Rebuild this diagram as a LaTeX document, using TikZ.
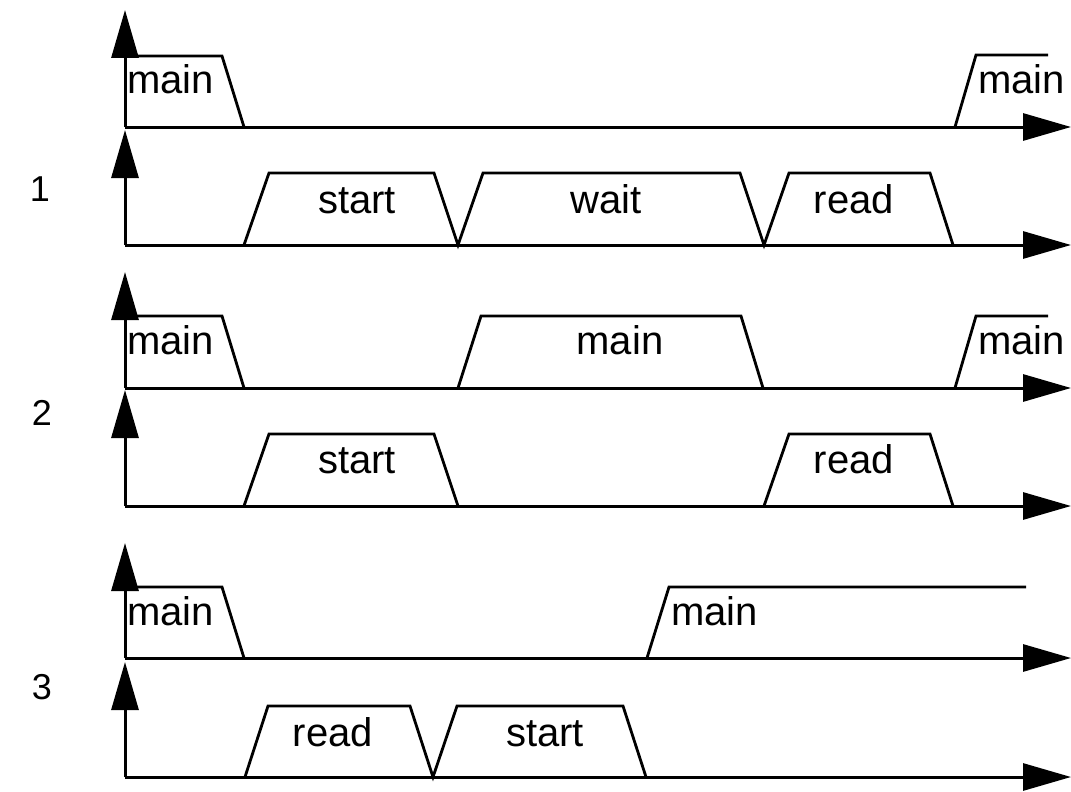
\documentclass[tikz,border=0pt]{standalone}
\usepackage{fontspec}
\setmainfont{Liberation Sans}
\usetikzlibrary{arrows.meta}
\begin{document}
\begin{tikzpicture}[x=1pt,y=-1pt,
  axis/.style={line width=3pt,-{Triangle[length=48pt,width=27pt]}},
  sig/.style={line width=2.8pt,line join=miter},
  lbl/.style={font=\fontsize{40}{42}\selectfont,inner sep=0pt,anchor=base},
  lbll/.style={lbl,anchor=base west},
  num/.style={font=\fontsize{36}{40}\selectfont,inner sep=0pt,anchor=base}]
\useasboundingbox (0,0) rectangle (1071,792);
% axis origins and tips
\foreach \n/\yb/\yt in {a/127/10, b/245/130, c/388/272, d/506/390, e/658/543, f/777/662}{
  \coordinate (o\n) at (125,\yb);
  \coordinate (t\n) at (125,\yt);
  \coordinate (r\n) at (1071,\yb);
}
\foreach \n in {a,b,c,d,e,f}{
  \draw[axis] (o\n) -- (t\n);
  \draw[axis] (o\n) -- (r\n);
}
% row 1
\draw[sig] (125,56) -- (222,56) -- (244,127);
\draw[sig] (955,127) -- (976,55) -- (1048,55);
\draw[sig] (244,245) -- (269,173) -- (434,173) -- (458,245) -- (483,173) -- (740,173) -- (764,245) -- (789,173) -- (930,173) -- (953,245);
\node[lbll] (m1a) at (127,93) {main};
\node[lbll] (m1b) at (978,93) {main};
\node[lbl] (s1) at (357,213) {start};
\node[lbl] (w1) at (606,213) {wait};
\node[lbl] (r1) at (854,213) {read};
% row 2
\draw[sig] (125,316) -- (222,316) -- (244,388);
\draw[sig] (458,388) -- (481,316) -- (741,316) -- (763,388);
\draw[sig] (955,388) -- (976,316) -- (1048,316);
\draw[sig] (244,506) -- (269,434) -- (434,434) -- (458,506);
\draw[sig] (764,506) -- (789,434) -- (930,434) -- (953,506);
\node[lbll] (m2a) at (127,354) {main};
\node[lbl] (m2b) at (620,354) {main};
\node[lbll] (m2c) at (978,354) {main};
\node[lbl] (s2) at (357,473) {start};
\node[lbl] (r2) at (854,473) {read};
% row 3
\draw[sig] (125,587) -- (222,587) -- (244,658);
\draw[sig] (647,658) -- (669,587) -- (1026,587);
\draw[sig] (245,777) -- (268,706) -- (410,706) -- (433,777) -- (457,706) -- (623,706) -- (646,777);
\node[lbll] (m3a) at (127,625) {main};
\node[lbll] (m3b) at (671,625) {main};
\node[lbl] (r3) at (333,746) {read};
\node[lbl] (s3) at (545,746) {start};
% numbers
\node[num] (n1) at (40,201) {1};
\node[num] (n2) at (42,425) {2};
\node[num] (n3) at (42,699) {3};
\end{tikzpicture}
\end{document}
